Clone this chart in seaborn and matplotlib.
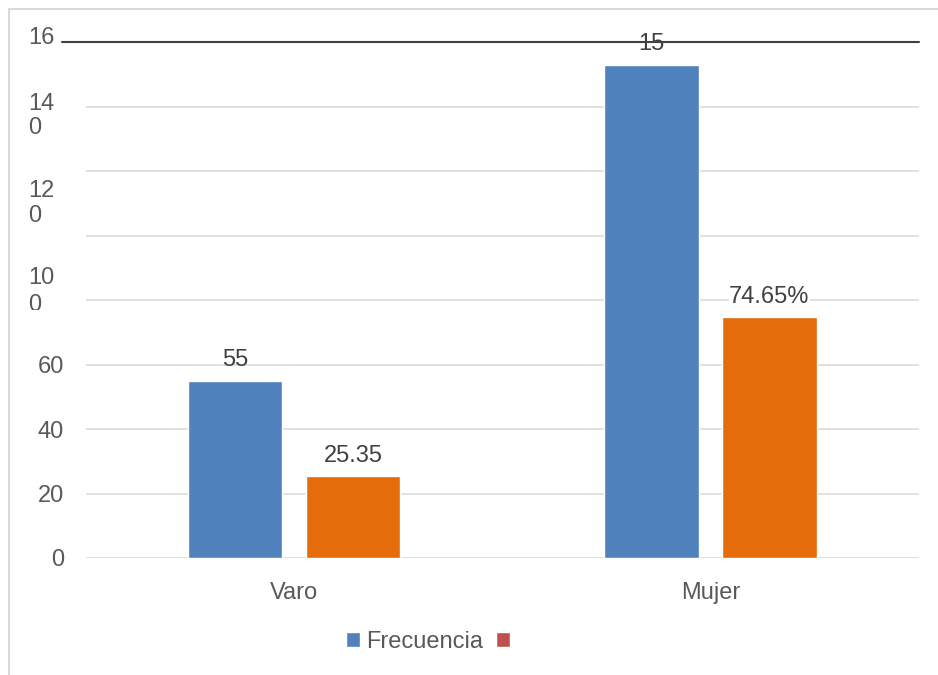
import pandas as pd
import numpy as np
import seaborn as sns
import matplotlib.pyplot as plt
from matplotlib.patches import Patch, Rectangle
from matplotlib.transforms import Bbox, TransformedBbox, blended_transform_factory

# data
sexo = ['Varo', 'Mujer']
frecuencia = [55, 153]
porcentaje = [25.35, 74.65]
etiq_frec = ['55', '15']
etiq_porc = ['25.35', '74.65%']
series = ['Frecuencia', 'Porcentaje']
y_ticks = [0, 20, 40, 60, 80, 100, 120, 140]
y_tick_labels = ['0', '20', '40', '60', '', '', '', '']
# broken (wrapped) axis labels as they appear in the picture
wrapped_labels = ['16', '14\n0', '12\n0', '10\n0']

df = pd.DataFrame({
    'Sexo': sexo * 2,
    'Valor': frecuencia + porcentaje,
    'Serie': [series[0]] * 2 + [series[1]] * 2,
})

sns.set_style('white')
plt.rcParams['font.family'] = ['Liberation Sans', 'DejaVu Sans']

W, H = 938, 675
fig = plt.figure(figsize=(W / 100, H / 100), dpi=100)
ax = fig.add_axes([86 / W, 1 - 558 / H, (918.5 - 86) / W, (558 - 42) / H])

blue, orange, red = '#4F81BD', '#E46C0A', '#C0504D'
sns.barplot(data=df, x='Sexo', y='Valor', hue='Serie', palette=[blue, orange],
            width=0.567, gap=0.2, legend=False, ax=ax, saturation=1)

ax.set_xlim(-0.5, 1.5)
ax.set_ylim(0, 160)
ax.set_xlabel('')
ax.set_ylabel('')
for s in ax.spines.values():
    s.set_visible(False)

ax.set_yticks(y_ticks)
ax.set_yticklabels(y_tick_labels)
ax.yaxis.grid(True, color='#D9D9D9', lw=1.1)
ax.set_axisbelow(True)
ax.tick_params(axis='y', length=0, pad=16, labelsize=17, labelcolor='#595959')
ax.tick_params(axis='x', length=0, pad=17, labelsize=17, labelcolor='#595959')

# dark line along the top of the plot
top = blended_transform_factory(ax.transAxes, ax.transData)
ax.plot([-24 / 832, 1.0], [160, 160], transform=top, color='#404040', lw=1.5,
        clip_on=False, zorder=3)

# bar labels
ax.bar_label(ax.containers[0], labels=etiq_frec, padding=7, fontsize=17, color='#404040')
ax.bar_label(ax.containers[1], labels=etiq_porc, padding=7, fontsize=17, color='#404040',
             bbox=dict(facecolor='white', edgecolor='none', pad=0))

# wrapped y labels
lt = blended_transform_factory(fig.transFigure, ax.transData)
px = lambda y: (558 - y) / 3.225
ax.text(28 / W, px(38), wrapped_labels[0], transform=lt, ha='left', va='center',
        fontsize=17, color='#595959')
for lab, ytop, ls in zip(wrapped_labels[1:], [95, 182, 269], [1.1, 1.15, 1.3]):
    t = ax.text(28 / W, px(ytop - 2), lab, transform=lt, ha='left', va='top',
                fontsize=17, color='#595959', linespacing=ls, clip_on=False)
    if lab == wrapped_labels[3]:
        t.set_clip_path(None)
        t.set_clip_box(TransformedBbox(Bbox.from_extents(0, 1 - 310 / H, 1, 1), fig.transFigure))
        t.set_clip_on(True)

# legend (second entry has no text)
handles = [Patch(facecolor=blue, label='Frecuencia'), Patch(facecolor=red, label='')]
fig.legend(handles=handles, loc='center', bbox_to_anchor=(431 / W, 1 - 642 / H),
           ncol=2, frameon=False, fontsize=17, handlelength=0.6, handleheight=0.6,
           handletextpad=0.25, columnspacing=0.55, labelcolor='#595959')

# outer frame of the chart area
fig.patches.append(Rectangle((9 / W, -0.1), 1.2, 1 - 8.5 / H + 0.1, transform=fig.transFigure,
                             fill=False, edgecolor='#D9D9D9', lw=1.5))

fig.savefig('out.png', dpi=100)
